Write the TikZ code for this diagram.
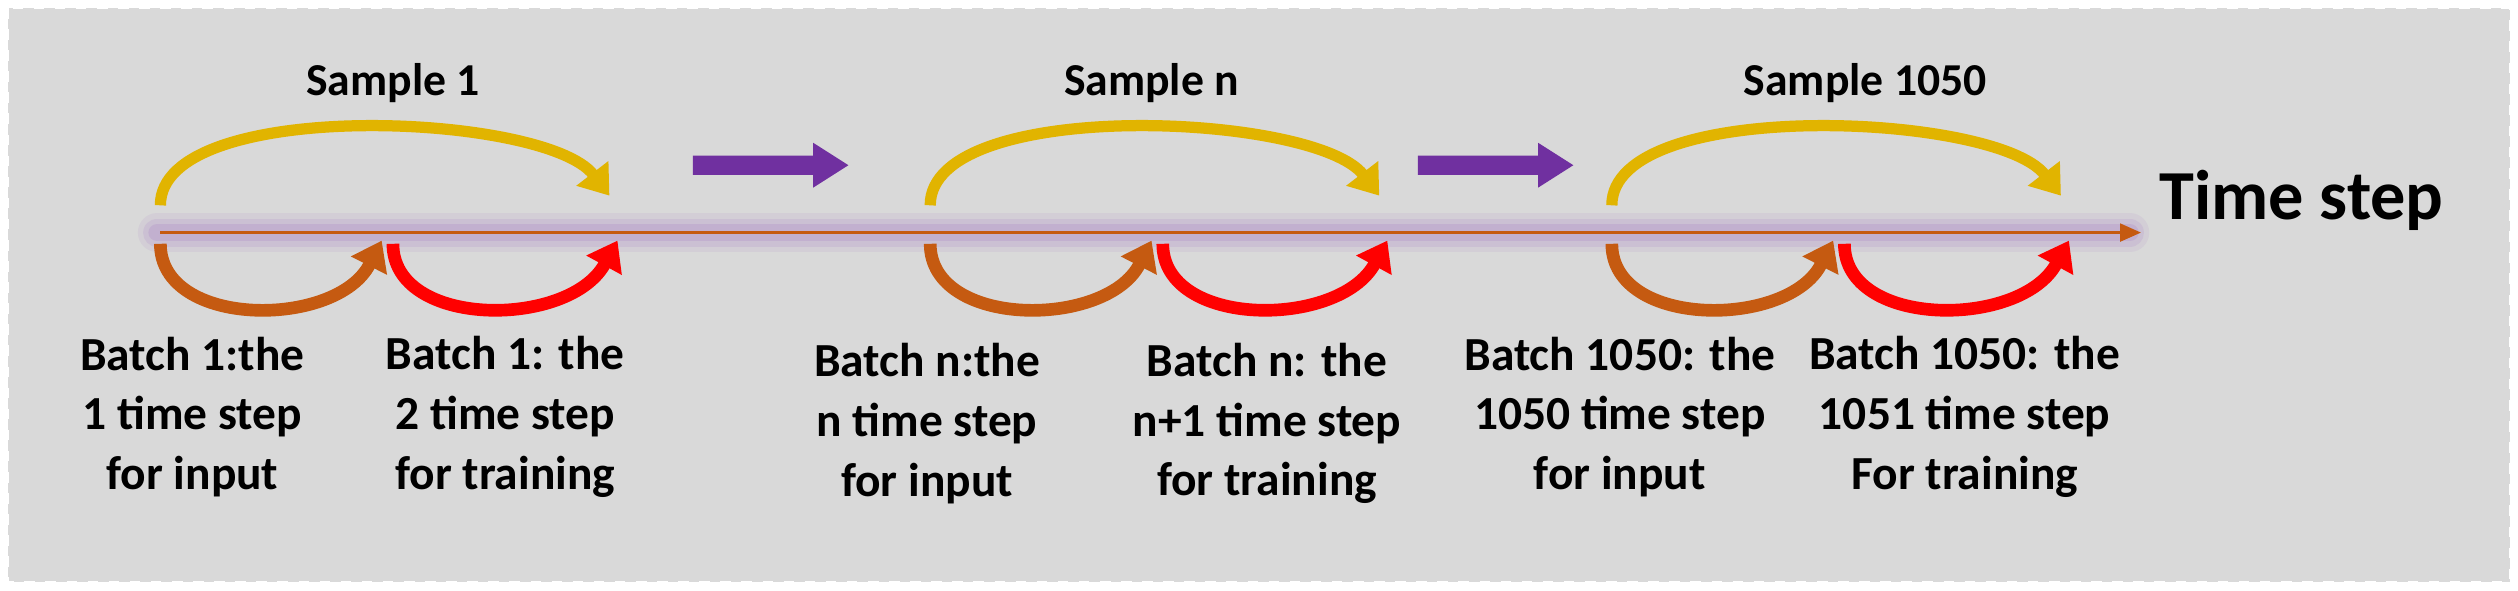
\documentclass[tikz,border=0pt]{standalone}
\usepackage{fontspec}
\setmainfont{Carlito}
\usetikzlibrary{arrows.meta}
\definecolor{bgGray}{RGB}{217,217,217}
\definecolor{arcGold}{RGB}{225,180,0}
\definecolor{arcOrange}{RGB}{197,90,17}
\definecolor{arcRed}{RGB}{255,0,0}
\definecolor{blockPurple}{RGB}{112,48,160}
\tikzset{
  sampleLbl/.style={font=\fontsize{13}{15}\selectfont\bfseries},
  batchLbl/.style={font=\fontsize{13.5}{17}\selectfont\bfseries, align=center},
  bigArc/.style={line width=3.2pt, -{Triangle[length=8pt,width=11pt]}},
  smallArc/.style={line width=3.6pt, -{Triangle[length=8pt,width=11pt]}}
}
\begin{document}
\begin{tikzpicture}[x=0.01604cm, y=-0.01604cm]
    % Background panel
    \useasboundingbox (0,0) rectangle (1570,368);
    \fill[bgGray] (5,5) rectangle (1565,363);
    \draw[white, dashed, line width=0.8pt] (5,5) rectangle (1565,363);

    % Glowing time axis
    \foreach \w/\o in {11/0.12, 8/0.18, 5/0.25}
        \draw[blockPurple!60, line width=\w pt, opacity=\o, line cap=round] (98,145) -- (1328,145);
    \coordinate (axisL) at (100,145);
    \coordinate (axisR) at (1335,145);
    \draw[arcOrange, line width=1pt, -{Triangle[length=6pt,width=5pt]}] (axisL) -- (axisR);
    \node[font=\fontsize{20}{24}\selectfont\bfseries] (tstep) at (1435,125) {Time step};

    % Samples
    \foreach \s/\name/\lx in {100/Sample 1/245, 580/Sample n/718, 1005/Sample 1050/1163} {
        \node[sampleLbl] (lbl\s) at (\lx,52) {\name};
        \coordinate (a\s) at (\s,128);
        \coordinate (b\s) at (\s+280,122);
        \coordinate (c\s) at (\s,152);
        \coordinate (d\s) at (\s+138,150);
        \coordinate (e\s) at (\s+145,152);
        \coordinate (f\s) at (\s+285,150);
        \draw[bigArc, arcGold] (a\s) .. controls (\s,60) and (\s+240,70) .. (b\s);
        \draw[smallArc, arcOrange] (c\s) .. controls (\s,205) and (\s+110,205) .. (d\s);
        \draw[smallArc, arcRed] (e\s) .. controls (\s+145,205) and (\s+255,205) .. (f\s);
    }

    % Purple block arrows
    \foreach \x in {432, 884}
        \fill[blockPurple] (\x,97) -- (\x+75,97) -- (\x+75,89) -- (\x+97,103)
            -- (\x+75,117) -- (\x+75,109) -- (\x,109) -- cycle;

    % Batch labels
    \node[batchLbl] (b1in) at (120,260) {Batch 1:the\\1 time step\\for input};
    \node[batchLbl] (b1tr) at (315,260) {Batch 1: the\\2 time step\\for training};
    \node[batchLbl] (bnin) at (578,264) {Batch n:the\\n time step\\for input};
    \node[batchLbl] (bntr) at (790,264) {Batch n: the\\n+1 time step\\for training};
    \node[batchLbl] (bkin) at (1010,260) {Batch 1050: the\\1050 time step\\for input};
    \node[batchLbl] (bktr) at (1225,260) {Batch 1050: the\\1051 time step\\For training};
\end{tikzpicture}
\end{document}
